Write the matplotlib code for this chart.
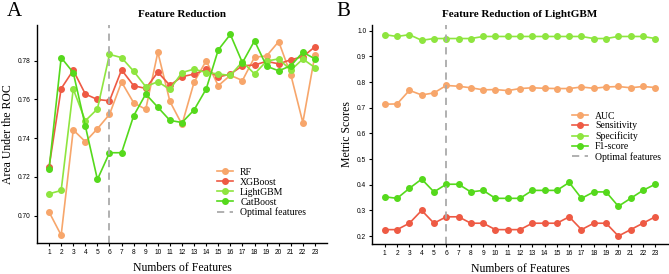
import matplotlib
matplotlib.use("Agg")
import matplotlib.pyplot as plt

features = list(range(1, 24))
optimal = 6

rf = [0.7019, 0.6899, 0.7443, 0.7382, 0.7449, 0.7523, 0.7690, 0.7583, 0.7549, 0.7844,
      0.7590, 0.7471, 0.7689, 0.7800, 0.7671, 0.7725, 0.7698, 0.7818, 0.7825, 0.7899,
      0.7729, 0.7481, 0.7830]
xgb = [0.7252, 0.7656, 0.7751, 0.7628, 0.7600, 0.7593, 0.7753, 0.7671, 0.7657, 0.7741,
       0.7673, 0.7718, 0.7731, 0.7755, 0.7716, 0.7731, 0.7774, 0.7778, 0.7797, 0.7784,
       0.7805, 0.7821, 0.7872]
lgbm = [0.7113, 0.7130, 0.7654, 0.7490, 0.7551, 0.7833, 0.7816, 0.7746, 0.7666, 0.7692,
        0.7652, 0.7739, 0.7757, 0.7739, 0.7732, 0.7724, 0.7795, 0.7732, 0.7798, 0.7810,
        0.7751, 0.7809, 0.7765]
cat = [0.7241, 0.7816, 0.7739, 0.7463, 0.7187, 0.7325, 0.7325, 0.7516, 0.7628, 0.7560,
       0.7492, 0.7481, 0.7546, 0.7654, 0.7856, 0.7936, 0.7790, 0.7903, 0.7772, 0.7748,
       0.7774, 0.7844, 0.7810]

auc = [0.714, 0.715, 0.768, 0.750, 0.758, 0.787, 0.784, 0.778, 0.770, 0.771, 0.767, 0.775,
       0.778, 0.776, 0.775, 0.775, 0.781, 0.776, 0.781, 0.783, 0.778, 0.783, 0.779]
sens = [0.225, 0.225, 0.25, 0.30, 0.25, 0.275, 0.275, 0.25, 0.25, 0.225, 0.225, 0.225,
        0.25, 0.25, 0.25, 0.275, 0.225, 0.25, 0.25, 0.20, 0.225, 0.25, 0.275]
spec = [0.985, 0.978, 0.985, 0.963, 0.970, 0.970, 0.970, 0.970, 0.978, 0.978, 0.978, 0.978,
        0.978, 0.978, 0.978, 0.978, 0.978, 0.970, 0.970, 0.978, 0.978, 0.978, 0.970]
f1 = [0.353, 0.347, 0.386, 0.422, 0.372, 0.402, 0.402, 0.372, 0.378, 0.347, 0.347, 0.347,
      0.378, 0.378, 0.378, 0.409, 0.347, 0.372, 0.372, 0.316, 0.347, 0.378, 0.402]

c_orange = "#F7A66B"
c_red = "#EE5A44"
c_light = "#8EE53F"
c_green = "#55D91C"
c_dash = "#AAAAAA"

serif = "Liberation Serif"
sans = "Liberation Sans"

fig = plt.figure(figsize=(6.69, 2.74), dpi=100)
axA = fig.add_axes([0.0553, 0.114, 0.4335, 0.795])
axB = fig.add_axes([0.5568, 0.1095, 0.441, 0.7995])

def style(ax):
    for s in ["top", "right"]:
        ax.spines[s].set_visible(False)
    for s in ["left", "bottom"]:
        ax.spines[s].set_linewidth(1.0)
    ax.tick_params(axis="both", labelsize=4.8, length=2.5, width=0.8, pad=2)
    ax.set_xlim(0, 24)
    ax.set_xticks(features)
    for lab in ax.get_xticklabels() + ax.get_yticklabels():
        lab.set_fontfamily(sans)

kw = dict(marker="o", markersize=4, linewidth=1.2)
leg_kw = dict(loc="center left", frameon=False, prop={"family": serif, "size": 7},
              borderpad=0, borderaxespad=0, labelspacing=0.1, handlelength=1.7,
              handletextpad=0.7)

axA.plot(features, rf, color=c_orange, label="RF", **kw)
axA.plot(features, xgb, color=c_red, label="XGBoost", **kw)
axA.plot(features, lgbm, color=c_light, label="LightGBM", **kw)
axA.plot(features, cat, color=c_green, label="CatBoost", **kw)
axA.axvline(optimal, color=c_dash, linestyle=(0, (4, 3)), linewidth=1.3, label="Optimal features")
axA.set_ylim(0.686, 0.7985)
axA.set_yticks([0.70, 0.72, 0.74, 0.76, 0.78])
axA.set_yticklabels(["0.70", "0.72", "0.74", "0.76", "0.78"])
style(axA)
axA.set_title("Feature Reduction", fontfamily=serif, fontweight="bold", fontsize=8, pad=6)
axA.set_xlabel("Numbers of Features", fontfamily=serif, fontsize=8.5, labelpad=4)
axA.set_ylabel("Area Under the ROC", fontfamily=serif, fontsize=8.5, labelpad=3)
axA.legend(bbox_to_anchor=(0.62, 0.23), **leg_kw)

axB.plot(features, auc, color=c_orange, label="AUC", **kw)
axB.plot(features, sens, color=c_red, label="Sensitivity", **kw)
axB.plot(features, spec, color=c_light, label="Specificity", **kw)
axB.plot(features, f1, color=c_green, label="F1-score", **kw)
axB.axvline(optimal, color=c_dash, linestyle=(0, (4, 3)), linewidth=1.3, label="Optimal features")
axB.set_ylim(0.169, 1.023)
axB.set_yticks([0.2, 0.3, 0.4, 0.5, 0.6, 0.7, 0.8, 0.9, 1.0])
axB.set_yticklabels(["0.2", "0.3", "0.4", "0.5", "0.6", "0.7", "0.8", "0.9", "1.0"])
style(axB)
axB.set_title("Feature Reduction of LightGBM", fontfamily=serif, fontweight="bold", fontsize=8, pad=6)
axB.set_xlabel("Numbers of Features", fontfamily=serif, fontsize=8.5, labelpad=4)
axB.set_ylabel("Metric Scores", fontfamily=serif, fontsize=8.5, labelpad=3)
axB.legend(bbox_to_anchor=(0.675, 0.49), **leg_kw)

fig.text(14 / 669, 1 - 12 / 274, "A", fontfamily=serif, fontsize=15, ha="center", va="center")
fig.text(343 / 669, 1 - 12 / 274, "B", fontfamily=serif, fontsize=15, ha="center", va="center")

fig.savefig("out.png", dpi=100)
